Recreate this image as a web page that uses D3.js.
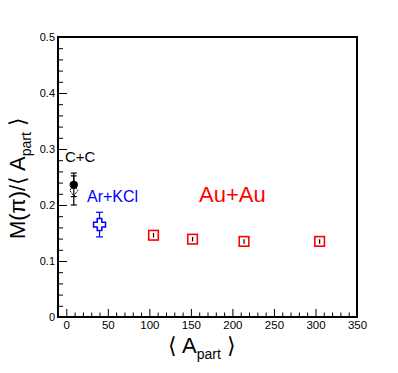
<!DOCTYPE html>
<html>
<head>
<meta charset="utf-8">
<script src="https://cdn.jsdelivr.net/npm/d3@7"></script>
<style>
  body { margin: 0; background: #fff; }
  text { font-family: "Liberation Sans", Arial, Helvetica, sans-serif; }
</style>
</head>
<body>
<svg id="chart" width="398" height="373"></svg>
<script>
// данные: <A_part> и M(pi)/<A_part>
const ccApart = [9];
const ccFilled = [0.236];
const ccFilledErr = [0.021];
const ccOpen = [0.226];
const ccOpenErr = [0.026];

const arApart = [40];
const arVal = [0.165];
const arErr = [0.022];

const auApart = [105, 152, 214, 305];
const auVal = [0.146, 0.139, 0.135, 0.135];
const auErr = [0.004, 0.004, 0.004, 0.004];

const xMajor = [0, 50, 100, 150, 200, 250, 300, 350];
const yMajor = [0, 0.1, 0.2, 0.3, 0.4, 0.5];

const svg = d3.select("#chart");

const frame = {left: 58, right: 357, top: 37, bottom: 317};
const x = d3.scaleLinear().domain([-10, 350]).range([frame.left, frame.right]);
const y = d3.scaleLinear().domain([0, 0.5]).range([frame.bottom, frame.top]);

// минорные деления
const xMinor = d3.range(0, 351, 10).filter(v => v % 50 !== 0);
const yMinor = d3.range(0, 0.501, 0.02).filter(v => Math.abs(v * 10 - Math.round(v * 10)) > 1e-6);

// ось X
svg.append("g")
    .attr("transform", `translate(0,${frame.bottom})`)
    .call(d3.axisBottom(x).tickValues(xMinor).tickSize(-4.5).tickFormat(""))
    .call(g => g.select(".domain").remove());
svg.append("g")
    .attr("transform", `translate(0,${frame.bottom})`)
    .call(d3.axisBottom(x).tickValues(xMajor).tickSize(-8).tickPadding(4).tickFormat(d3.format("d")))
    .call(g => g.select(".domain").remove())
    .selectAll("text").attr("font-size", 11.5).attr("fill", "#000");

// ось Y
svg.append("g")
    .attr("transform", `translate(${frame.left},0)`)
    .call(d3.axisLeft(y).tickValues(yMinor).tickSize(-5).tickFormat(""))
    .call(g => g.select(".domain").remove());
svg.append("g")
    .attr("transform", `translate(${frame.left},0)`)
    .call(d3.axisLeft(y).tickValues(yMajor).tickSize(-9).tickPadding(3)
        .tickFormat(d => d === 0 ? "0" : d3.format(".1f")(d)))
    .call(g => g.select(".domain").remove())
    .selectAll("text").attr("font-size", 11).attr("fill", "#000");

svg.selectAll(".tick line").attr("stroke", "#000").attr("stroke-width", 1);

// рамка
svg.append("rect")
    .attr("x", frame.left).attr("y", frame.top)
    .attr("width", frame.right - frame.left).attr("height", frame.bottom - frame.top)
    .attr("fill", "none").attr("stroke", "#000").attr("stroke-width", 2);

// ошибки
function drawErrors(xs, vals, errs, color, cap) {
    xs.forEach((a, i) => {
        const cx = x(a);
        const y1 = y(vals[i] + errs[i]), y2 = y(vals[i] - errs[i]);
        svg.append("line").attr("x1", cx).attr("x2", cx).attr("y1", y1).attr("y2", y2)
            .attr("stroke", color).attr("stroke-width", 1.2);
        if (cap > 0) {
            [y1, y2].forEach(yy => svg.append("line")
                .attr("x1", cx - cap).attr("x2", cx + cap).attr("y1", yy).attr("y2", yy)
                .attr("stroke", color).attr("stroke-width", 1.2));
        }
    });
}

// C+C
drawErrors(ccApart, ccOpen, ccOpenErr, "#000", 3);
drawErrors(ccApart, ccFilled, ccFilledErr, "#000", 3);
ccApart.forEach((a, i) => {
    const cx = x(a), cy = y(ccOpen[i]);
    svg.append("path")
        .attr("d", `M${cx},${cy - 5.5}L${cx + 4},${cy}L${cx},${cy + 5.5}L${cx - 4},${cy}Z`)
        .attr("fill", "#fff").attr("stroke", "#000").attr("stroke-width", 1)
        .attr("stroke-dasharray", "2,1");
    svg.append("line").attr("x1", cx).attr("x2", cx).attr("y1", cy - 5.5).attr("y2", cy + 5.5)
        .attr("stroke", "#000").attr("stroke-width", 1.2);
});
ccApart.forEach((a, i) => {
    svg.append("circle").attr("cx", x(a)).attr("cy", y(ccFilled[i])).attr("r", 4.2).attr("fill", "#000");
});

// Ar+KCl
drawErrors(arApart, arVal, arErr, "#0000ff", 3.5);
arApart.forEach((a, i) => {
    const cx = x(a), cy = y(arVal[i]);
    const s = 6, t = 2.3;
    svg.append("path")
        .attr("d", `M${cx - t},${cy - s}H${cx + t}V${cy - t}H${cx + s}V${cy + t}H${cx + t}V${cy + s}H${cx - t}V${cy + t}H${cx - s}V${cy - t}H${cx - t}Z`)
        .attr("fill", "#fff").attr("stroke", "#0000ff").attr("stroke-width", 1.5);
});

// Au+Au
auApart.forEach((a, i) => {
    const cx = x(a), cy = y(auVal[i]);
    svg.append("rect").attr("x", cx - 4.8).attr("y", cy - 4.8).attr("width", 9.6).attr("height", 9.6)
        .attr("fill", "#fff").attr("stroke", "#ff0000").attr("stroke-width", 1.6);
});
drawErrors(auApart, auVal, auErr, "#000", 0);

// подписи систем
svg.append("text").attr("x", 65).attr("y", 161.5).attr("font-size", 15).attr("fill", "#000").text("C+C");
svg.append("text").attr("x", 87).attr("y", 201.5).attr("font-size", 16).attr("fill", "#0000ff").text("Ar+KCl");
svg.append("text").attr("x", 199).attr("y", 202).attr("font-size", 22).attr("fill", "#ff0000").text("Au+Au");

// заголовок оси X
const xt = svg.append("text").attr("x", 202).attr("y", 353).attr("text-anchor", "middle").attr("font-size", 22);
xt.append("tspan").text("\u27E8 A");
xt.append("tspan").attr("font-size", 14).attr("dy", 6).text("part");
xt.append("tspan").attr("dy", -6).text(" \u27E9");

// заголовок оси Y
const yt = svg.append("text")
    .attr("transform", "translate(25,178) rotate(-90)")
    .attr("text-anchor", "middle").attr("font-size", 22);
yt.append("tspan").text("M(\u03C0)/\u27E8 A");
yt.append("tspan").attr("font-size", 14).attr("dy", 6).text("part");
yt.append("tspan").attr("dy", -6).text(" \u27E9");
</script>
</body>
</html>
